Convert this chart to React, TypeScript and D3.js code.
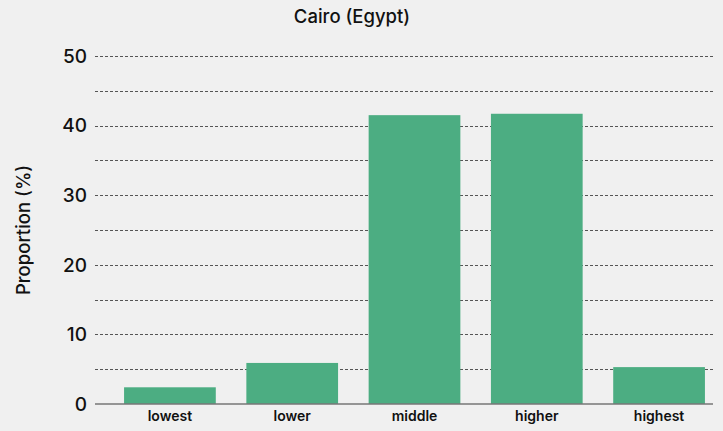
import React from "react";
import * as d3 from "d3";

const categories = ["lowest", "lower", "middle", "higher", "highest"];
const values = [2.4, 5.9, 41.5, 41.7, 5.3];
const majorTicks = [0, 10, 20, 30, 40, 50];
const minorTicks = [5, 15, 25, 35, 45];
const title = "Cairo (Egypt)";
const yLabel = "Proportion (%)";

const W = 723;
const H = 431;

export default function App() {
  const x = d3
    .scaleBand<string>()
    .domain(categories)
    .range([93.5, 735.5])
    .paddingInner(0.25)
    .paddingOuter(0.25);
  const y = d3.scaleLinear().domain([0, 50]).range([404, 56]);
  const gx0 = 95;
  const gx1 = 713;
  const font = "Inter, 'Noto Sans', sans-serif";
  return (
    <svg
      width={W}
      height={H}
      style={{ position: "absolute", left: 0, top: 0 }}
      fontFamily={font}
    >
      <rect x={0} y={0} width={W} height={H} fill="#f0f0f0" />
      <text x={352} y={23} textAnchor="middle" fontSize={18.5} fontWeight={500} fill="#111">
        {title}
      </text>
      {[...majorTicks.filter((t) => t > 0), ...minorTicks].map((t) => (
        <line
          key={"g" + t}
          x1={gx0}
          x2={gx1}
          y1={Math.round(y(t)) + 0.5}
          y2={Math.round(y(t)) + 0.5}
          stroke="#555"
          strokeWidth={1}
          strokeDasharray="3,2"
        />
      ))}
      {majorTicks.map((t) => (
        <text
          key={"t" + t}
          x={87}
          y={y(t)}
          dy="0.36em"
          textAnchor="end"
          fontSize={19}
          fontWeight={500}
          fill="#111"
        >
          {t}
        </text>
      ))}
      {categories.map((c, i) => (
        <rect
          key={c}
          x={x(c)}
          y={y(values[i])}
          width={x.bandwidth()}
          height={y(0) - y(values[i])}
          fill="#4cad82"
        />
      ))}
      <line x1={gx0} x2={gx1} y1={404} y2={404} stroke="#777" strokeWidth={1.5} />
      {categories.map((c) => (
        <text
          key={"l" + c}
          x={(x(c) as number) + x.bandwidth() / 2}
          y={421}
          textAnchor="middle"
          fontSize={14}
          fontWeight={600}
          fill="#111"
        >
          {c}
        </text>
      ))}
      <text
        transform={`translate(30,230) rotate(-90)`}
        textAnchor="middle"
        fontSize={18.5}
        fontWeight={500}
        fill="#111"
      >
        {yLabel}
      </text>
    </svg>
  );
}
